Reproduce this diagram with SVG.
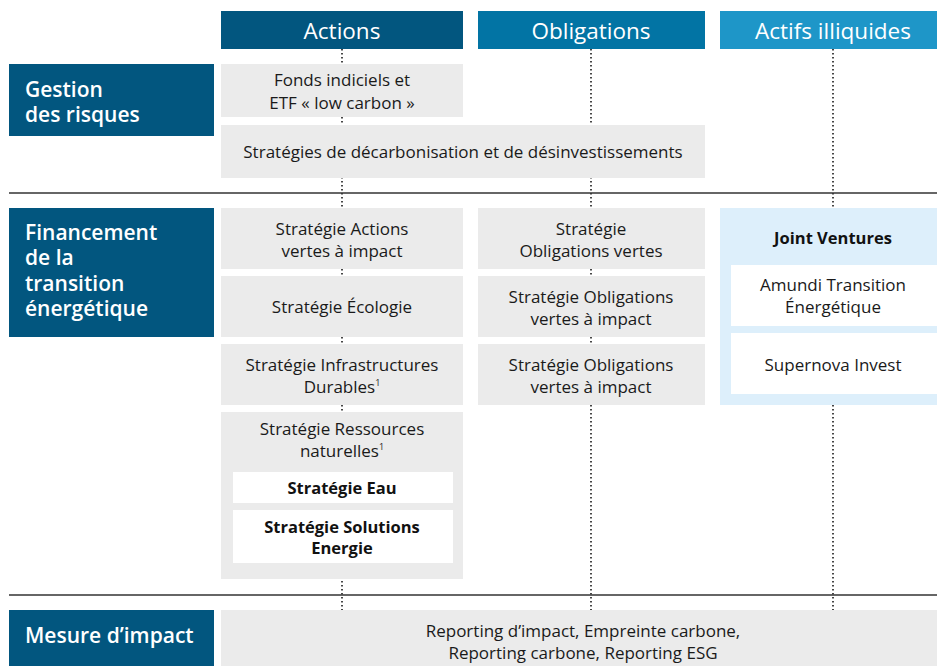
<svg xmlns="http://www.w3.org/2000/svg" width="937" height="666" viewBox="0 0 937 666">
<style>
.hd{font-family:"Open Sans","Noto Sans",sans-serif;font-size:22.5px;fill:#fff;text-anchor:middle;font-weight:500}
.lb{font-family:"Open Sans","Noto Sans",sans-serif;font-size:21px;fill:#fff;font-weight:600}
.tx{font-family:"Open Sans","Noto Sans",sans-serif;font-size:17px;fill:#1a1a1a;text-anchor:middle}
.bd{font-family:"Open Sans","Noto Sans",sans-serif;font-size:16.5px;fill:#111;text-anchor:middle;font-weight:700}
.gray{fill:#ebebeb}
.white{fill:#fff}
.lab{fill:#02567f}
.dot{stroke:#1a1a1a;stroke-width:1.6;stroke-dasharray:1.6 2.4;fill:none}
.rule{stroke:#333;stroke-width:1.5}
</style>
<g id="connectors">
<line class="dot" x1="342" y1="49" x2="342" y2="610"/>
<line class="dot" x1="591" y1="49" x2="591" y2="610"/>
<line class="dot" x1="833" y1="49" x2="833" y2="610"/>
<line class="rule" x1="9" y1="193" x2="937" y2="193"/>
<line class="rule" x1="9" y1="595" x2="937" y2="595"/>
</g>
<g id="h-actions"><rect x="221" y="11" width="242" height="38" fill="#02567f"/><text class="hd" x="342" y="39">Actions</text></g>
<g id="h-obligations"><rect x="478" y="11" width="227" height="38" fill="#0274a4"/><text class="hd" x="591" y="39">Obligations</text></g>
<g id="h-actifs"><rect x="720" y="11" width="217" height="38" fill="#1e96c8"/><text class="hd" x="833" y="39">Actifs illiquides</text></g>

<g id="l-gestion"><rect class="lab" x="9" y="64" width="205" height="72"/><text class="lb" x="25" y="97">Gestion</text><text class="lb" x="25" y="122">des risques</text></g>
<g id="n-fonds"><rect class="gray" x="221" y="64" width="242" height="53"/><text class="tx" x="342" y="86">Fonds indiciels et</text><text class="tx" x="342" y="109">ETF « low carbon »</text></g>
<g id="n-decarbo"><rect class="gray" x="221" y="125" width="484" height="53"/><text class="tx" x="463" y="158">Stratégies de décarbonisation et de désinvestissements</text></g>

<g id="l-financement"><rect class="lab" x="9" y="208" width="205" height="129"/><text class="lb" x="25" y="240">Financement</text><text class="lb" x="25" y="265">de la</text><text class="lb" x="25" y="291">transition</text><text class="lb" x="25" y="316">énergétique</text></g>
<g id="n-actions-vertes"><rect class="gray" x="221" y="208" width="242" height="61"/><text class="tx" x="342" y="235">Stratégie Actions</text><text class="tx" x="342" y="257">vertes à impact</text></g>
<g id="n-ecologie"><rect class="gray" x="221" y="276" width="242" height="61"/><text class="tx" x="342" y="313">Stratégie Écologie</text></g>
<g id="n-infra"><rect class="gray" x="221" y="344" width="242" height="61"/><text class="tx" x="342" y="371">Stratégie Infrastructures</text><text class="tx" x="342" y="393">Durables<tspan font-size="9" dy="-7">1</tspan></text></g>
<g id="n-ressources"><rect class="gray" x="221" y="412" width="242" height="167"/><text class="tx" x="342" y="435">Stratégie Ressources</text><text class="tx" x="342" y="457">naturelles<tspan font-size="9" dy="-7">1</tspan></text>
<rect class="white" x="233" y="472" width="220" height="31"/><text class="bd" x="342" y="494">Stratégie Eau</text>
<rect class="white" x="233" y="510" width="220" height="53"/><text class="bd" x="342" y="533">Stratégie Solutions</text><text class="bd" x="342" y="554">Energie</text></g>

<g id="n-oblig-vertes"><rect class="gray" x="478" y="208" width="227" height="61"/><text class="tx" x="591" y="235">Stratégie</text><text class="tx" x="591" y="257">Obligations vertes</text></g>
<g id="n-oblig-impact1"><rect class="gray" x="478" y="276" width="227" height="61"/><text class="tx" x="591" y="303">Stratégie Obligations</text><text class="tx" x="591" y="325">vertes à impact</text></g>
<g id="n-oblig-impact2"><rect class="gray" x="478" y="344" width="227" height="61"/><text class="tx" x="591" y="371">Stratégie Obligations</text><text class="tx" x="591" y="393">vertes à impact</text></g>

<g id="n-jv"><rect x="720" y="208" width="217" height="197" fill="#ddeffb"/><text class="bd" x="833" y="244">Joint Ventures</text>
<rect class="white" x="731" y="265" width="206" height="61"/><text class="tx" x="833" y="291">Amundi Transition</text><text class="tx" x="833" y="313">Énergétique</text>
<rect class="white" x="731" y="333" width="206" height="61"/><text class="tx" x="833" y="371">Supernova Invest</text></g>

<g id="l-mesure"><rect class="lab" x="9" y="610" width="205" height="56"/><text class="lb" x="25" y="643">Mesure d’impact</text></g>
<g id="n-reporting"><rect class="gray" x="221" y="610" width="716" height="56"/><text class="tx" x="583" y="637">Reporting d’impact, Empreinte carbone,</text><text class="tx" x="583" y="659">Reporting carbone, Reporting ESG</text></g>
</svg>
